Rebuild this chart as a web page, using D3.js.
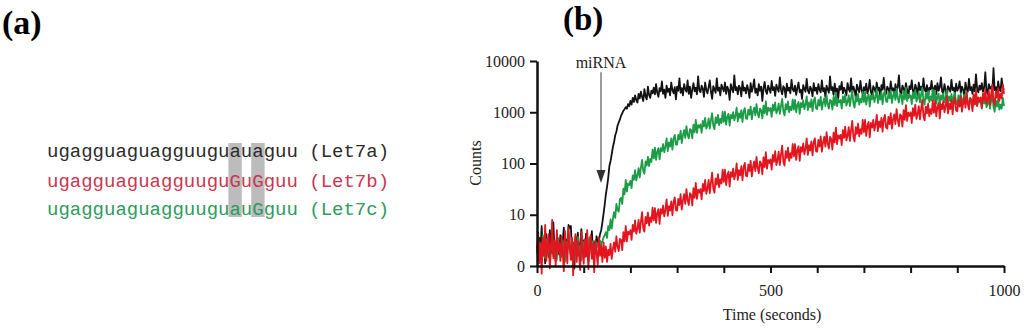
<!DOCTYPE html>
<html lang="en">
<head>
<meta charset="UTF-8">
<title>Let7 binding</title>
<style>
    body { margin: 0; background: #fff; }
    svg { display: block; }
    .seq { font-family: "Liberation Mono", "DejaVu Sans Mono", monospace; font-size: 19px; }
    .serif { font-family: "Liberation Serif", "Times New Roman", serif; }
    .axis path, .axis line { stroke: #111; stroke-width: 2px; }
    .axis text { font-family: "Liberation Serif", serif; font-size: 16px; fill: #222; }
</style>
</head>
<body>
<svg width="1024" height="330"></svg>
<script src="https://d3js.org/d3.v7.min.js"></script>
<script>
    // log10(counts), one sample every 2.5 s from 0 to 1000 s (20 samples per row = 50 s)
    var step = 2.5;

    var let7a = [
        0.40, 0.12, 0.55, 0.30, 0.78, 0.20, 0.45, 0.05, 0.62, 0.35, 0.18, 0.70, 0.42, 0.25, 0.85, 0.30, 0.10, 0.55, 0.38, 0.22,
        0.60, 0.28, 0.48, 0.75, 0.15, 0.52, 0.33, 0.80, 0.74, 0.78, 0.25, 0.45, -0.05, 0.58, 0.30, 0.65, 0.20, 0.40, 0.72, 0.28,
        0.50, 0.18, 0.63, 0.35, 0.08, 0.55, 0.40, 0.68, 0.22, 0.47, 0.30, 0.58, 0.45, 0.50, 0.62, 0.70, 0.85, 1.02, 1.20, 1.40,
        1.55, 1.72, 1.95, 2.05, 2.18, 2.32, 2.42, 2.55, 2.62, 2.74, 2.80, 2.86, 2.93, 2.98, 3.03, 3.06, 3.10, 3.07, 3.16, 3.12,
        3.22, 3.15, 3.28, 3.20, 3.33, 3.24, 3.19, 3.36, 3.27, 3.40, 3.30, 3.22, 3.45, 3.31, 3.25, 3.50, 3.34, 3.28, 3.42, 3.37,
        3.48, 3.35, 3.55, 3.38, 3.30, 3.47, 3.41, 3.60, 3.36, 3.44, 3.28, 3.52, 3.40, 3.46, 3.33, 3.58, 3.43, 3.37, 3.49, 3.25,
        3.50, 3.42, 3.66, 3.38, 3.47, 3.33, 3.55, 3.45, 3.40, 3.62, 3.36, 3.50, 3.28, 3.44, 3.57, 3.41, 3.48, 3.35, 3.70, 3.43,
        3.39, 3.52, 3.46, 3.30, 3.58, 3.44, 3.37, 3.49, 3.62, 3.40, 3.26, 3.51, 3.45, 3.38, 3.66, 3.42, 3.48, 3.33, 3.54, 3.47,
        3.41, 3.58, 3.36, 3.50, 3.44, 3.24, 3.55, 3.46, 3.39, 3.72, 3.43, 3.49, 3.35, 3.52, 3.47, 3.31, 3.60, 3.42, 3.48, 3.37,
        3.53, 3.44, 3.28, 3.57, 3.40, 3.49, 3.64, 3.38, 3.46, 3.33, 3.55, 3.42, 3.50, 3.22, 3.47, 3.59, 3.41, 3.36, 3.52, 3.45,
        3.38, 3.61, 3.43, 3.49, 3.32, 3.54, 3.46, 3.40, 3.68, 3.44, 3.35, 3.51, 3.47, 3.29, 3.56, 3.42, 3.48, 3.37, 3.63, 3.45,
        3.41, 3.52, 3.34, 3.47, 3.58, 3.39, 3.44, 3.26, 3.53, 3.46, 3.40, 3.65, 3.43, 3.37, 3.50, 3.45, 3.31, 3.57, 3.42, 3.48,
        3.36, 3.55, 3.44, 3.39, 3.62, 3.41, 3.47, 3.30, 3.52, 3.45, 3.38, 3.70, 3.43, 3.49, 3.34, 3.56, 3.40, 3.46, 3.27, 3.51,
        3.44, 3.59, 3.37, 3.48, 3.42, 3.33, 3.57, 3.45, 3.40, 3.66, 3.38, 3.50, 3.43, 3.29, 3.54, 3.46, 3.39, 3.61, 3.44, 3.35,
        3.49, 3.42, 3.56, 3.37, 3.45, 3.63, 3.40, 3.32, 3.51, 3.46, 3.39, 3.58, 3.43, 3.48, 3.25, 3.53, 3.44, 3.67, 3.41, 3.36,
        3.50, 3.45, 3.38, 3.60, 3.43, 3.47, 3.31, 3.55, 3.42, 3.49, 3.72, 3.40, 3.36, 3.52, 3.46, 3.39, 3.57, 3.44, 3.28, 3.51,
        3.45, 3.62, 3.41, 3.37, 3.54, 3.47, 3.33, 3.58, 3.43, 3.50, 3.38, 3.66, 3.44, 3.40, 3.53, 3.30, 3.48, 3.45, 3.61, 3.39,
        3.46, 3.52, 3.35, 3.57, 3.42, 3.49, 3.68, 3.41, 3.37, 3.55, 3.44, 3.29, 3.51, 3.46, 3.40, 3.63, 3.43, 3.48, 3.34, 3.56,
        3.42, 3.47, 3.60, 3.38, 3.50, 3.44, 3.32, 3.58, 3.45, 3.40, 3.65, 3.43, 3.49, 3.36, 3.54, 3.41, 3.74, 3.46, 3.39, 3.52,
        3.44, 3.57, 3.40, 3.48, 3.78, 3.42, 3.35, 3.55, 3.46, 3.50, 3.38, 3.86, 3.43, 3.49, 3.37, 3.60, 3.45, 3.41, 3.66, 3.47,
        3.44
    ];

    var let7c = [
        0.25, 0.48, 0.10, 0.40, 0.22, 0.60, 0.35, 0.15, 0.52, 0.28, 0.44, 0.05, 0.38, 0.58, 0.20, 0.46, 0.32, 0.12, 0.55, 0.30,
        0.42, 0.18, 0.50, 0.36, 0.08, 0.47, 0.26, 0.62, 0.34, 0.20, 0.53, 0.40, 0.14, 0.45, 0.30, 0.57, 0.24, 0.39, 0.11, 0.48,
        0.33, 0.52, 0.21, 0.44, 0.29, 0.56, 0.37, 0.18, 0.49, 0.35, 0.27, 0.46, 0.40, 0.33, 0.50, 0.42, 0.48, 0.56, 0.60, 0.66,
        0.55, 0.78, 0.70, 0.91, 0.73, 0.92, 1.05, 0.94, 1.21, 1.09, 1.06, 1.30, 1.33, 1.21, 1.51, 1.40, 1.68, 1.45, 1.61, 1.58,
        1.66, 1.52, 1.77, 1.68, 1.87, 1.67, 1.76, 1.91, 1.73, 1.92, 2.07, 1.85, 1.80, 2.04, 1.96, 2.13, 1.95, 2.09, 2.03, 2.27,
        2.10, 2.31, 2.07, 2.23, 2.30, 2.08, 2.30, 2.24, 2.38, 2.22, 2.33, 2.49, 2.24, 2.41, 2.33, 2.49, 2.27, 2.49, 2.56, 2.37,
        2.37, 2.56, 2.47, 2.64, 2.40, 2.55, 2.65, 2.50, 2.73, 2.56, 2.49, 2.67, 2.65, 2.49, 2.76, 2.61, 2.85, 2.60, 2.75, 2.70,
        2.76, 2.60, 2.83, 2.72, 2.89, 2.68, 2.74, 2.88, 2.68, 2.85, 2.98, 2.74, 2.67, 2.90, 2.79, 2.95, 2.75, 2.87, 2.79, 3.01,
        2.81, 3.01, 2.76, 2.91, 2.97, 2.74, 2.95, 2.88, 3.00, 2.84, 2.93, 3.09, 2.82, 2.98, 2.89, 3.04, 2.81, 3.02, 3.08, 2.88,
        2.87, 3.05, 2.95, 3.11, 2.86, 3.01, 3.09, 2.94, 3.16, 2.98, 2.90, 3.07, 3.04, 2.88, 3.13, 2.98, 3.21, 2.95, 3.09, 3.03,
        3.08, 2.91, 3.15, 3.03, 3.19, 2.98, 3.04, 3.17, 2.97, 3.13, 3.26, 3.02, 2.94, 3.16, 3.05, 3.21, 3.00, 3.11, 3.04, 3.25,
        3.05, 3.24, 3.00, 3.14, 3.20, 2.97, 3.18, 3.10, 3.23, 3.06, 3.15, 3.31, 3.04, 3.19, 3.10, 3.25, 3.02, 3.22, 3.29, 3.08,
        3.06, 3.24, 3.13, 3.30, 3.05, 3.19, 3.27, 3.12, 3.34, 3.16, 3.07, 3.24, 3.22, 3.05, 3.30, 3.14, 3.38, 3.12, 3.25, 3.19,
        3.24, 3.07, 3.31, 3.19, 3.35, 3.13, 3.20, 3.33, 3.12, 3.28, 3.42, 3.17, 3.09, 3.31, 3.21, 3.36, 3.15, 3.26, 3.19, 3.40,
        3.20, 3.39, 3.15, 3.29, 3.35, 3.11, 3.33, 3.25, 3.37, 3.20, 3.30, 3.45, 3.18, 3.33, 3.25, 3.39, 3.16, 3.36, 3.43, 3.22,
        3.20, 3.38, 3.27, 3.43, 3.18, 3.32, 3.40, 3.24, 3.46, 3.28, 3.19, 3.36, 3.33, 3.16, 3.41, 3.25, 3.48, 3.22, 3.35, 3.29,
        3.33, 3.16, 3.39, 3.27, 3.43, 3.21, 3.27, 3.40, 3.19, 3.35, 3.48, 3.23, 3.15, 3.37, 3.26, 3.41, 3.20, 3.31, 3.23, 3.44,
        3.23, 3.42, 3.17, 3.31, 3.36, 3.12, 3.33, 3.25, 3.37, 3.20, 3.28, 3.43, 3.16, 3.31, 3.22, 3.36, 3.12, 3.32, 3.38, 3.17,
        3.15, 3.33, 3.22, 3.37, 3.12, 3.26, 3.34, 3.17, 3.39, 3.21, 3.11, 3.28, 3.25, 3.08, 3.32, 3.16, 3.39, 3.13, 3.25, 3.19,
        3.24, 3.07, 3.29, 3.17, 3.32, 3.10, 3.16, 3.28, 3.07, 3.22, 3.35, 3.10, 3.01, 3.23, 3.11, 3.26, 3.05, 3.15, 3.07, 3.28,
        3.12
    ];

    var let7b = [
        0.30, 0.65, 0.05, 0.45, -0.15, 0.55, 0.20, 0.80, 0.10, 0.40, 0.62, -0.05, 0.35, 0.90, 0.15, 0.50, 0.00, 0.70, 0.28, 0.45,
        0.10, 0.58, 0.25, -0.10, 0.68, 0.32, 0.05, 0.75, 0.40, 0.12, 0.55, -0.18, 0.38, 0.62, 0.08, 0.48, 0.22, -0.08, 0.66, 0.30,
        0.04, 0.52, 0.18, 0.70, -0.06, 0.36, 0.60, 0.14, 0.44, -0.12, 0.50, 0.26, 0.02, 0.56, 0.20, 0.40, 0.08, 0.46, 0.16, 0.38,
        0.08, 0.32, 0.21, 0.43, 0.14, 0.33, 0.46, 0.28, 0.58, 0.38, 0.29, 0.53, 0.51, 0.31, 0.66, 0.48, 0.78, 0.48, 0.67, 0.62,
        0.70, 0.51, 0.80, 0.67, 0.89, 0.63, 0.72, 0.90, 0.65, 0.86, 1.05, 0.74, 0.67, 0.96, 0.83, 1.04, 0.79, 0.95, 0.86, 1.14,
        0.89, 1.13, 0.84, 1.03, 1.11, 0.82, 1.11, 1.02, 1.18, 0.97, 1.10, 1.30, 0.98, 1.17, 1.08, 1.26, 0.99, 1.25, 1.34, 1.09,
        1.08, 1.31, 1.19, 1.40, 1.10, 1.28, 1.40, 1.21, 1.50, 1.29, 1.19, 1.42, 1.39, 1.18, 1.52, 1.33, 1.62, 1.31, 1.49, 1.43,
        1.50, 1.30, 1.60, 1.46, 1.68, 1.41, 1.51, 1.68, 1.42, 1.63, 1.82, 1.51, 1.43, 1.71, 1.59, 1.79, 1.54, 1.69, 1.61, 1.88,
        1.64, 1.88, 1.58, 1.77, 1.84, 1.55, 1.83, 1.74, 1.90, 1.69, 1.80, 2.00, 1.68, 1.87, 1.77, 1.95, 1.67, 1.93, 2.01, 1.76,
        1.75, 1.98, 1.85, 2.05, 1.75, 1.93, 2.04, 1.85, 2.13, 1.92, 1.81, 2.04, 2.00, 1.79, 2.12, 1.93, 2.22, 1.90, 2.07, 2.01,
        2.08, 1.88, 2.17, 2.03, 2.24, 1.97, 2.06, 2.23, 1.97, 2.18, 2.35, 2.04, 1.96, 2.24, 2.11, 2.31, 2.05, 2.20, 2.11, 2.38,
        2.14, 2.38, 2.07, 2.26, 2.34, 2.05, 2.32, 2.23, 2.39, 2.18, 2.29, 2.49, 2.17, 2.36, 2.25, 2.43, 2.16, 2.42, 2.49, 2.24,
        2.23, 2.46, 2.33, 2.53, 2.23, 2.41, 2.52, 2.33, 2.61, 2.40, 2.29, 2.52, 2.48, 2.27, 2.60, 2.41, 2.70, 2.38, 2.55, 2.49,
        2.56, 2.36, 2.65, 2.50, 2.72, 2.45, 2.54, 2.71, 2.44, 2.65, 2.83, 2.52, 2.43, 2.71, 2.58, 2.78, 2.53, 2.67, 2.58, 2.85,
        2.61, 2.85, 2.54, 2.73, 2.81, 2.51, 2.79, 2.70, 2.85, 2.64, 2.76, 2.95, 2.63, 2.82, 2.71, 2.89, 2.62, 2.87, 2.95, 2.70,
        2.68, 2.91, 2.77, 2.98, 2.68, 2.86, 2.96, 2.77, 3.06, 2.85, 2.73, 2.96, 2.93, 2.72, 3.04, 2.85, 3.14, 2.83, 2.99, 2.93,
        3.00, 2.79, 3.08, 2.93, 3.15, 2.87, 2.96, 3.12, 2.86, 3.06, 3.24, 2.92, 2.84, 3.11, 2.98, 3.17, 2.92, 3.06, 2.97, 3.23,
        2.99, 3.22, 2.92, 3.10, 3.18, 2.88, 3.16, 3.06, 3.22, 3.00, 3.11, 3.31, 2.98, 3.17, 3.06, 3.24, 2.96, 3.21, 3.29, 3.03,
        3.02, 3.24, 3.11, 3.31, 3.01, 3.18, 3.29, 3.09, 3.38, 3.16, 3.05, 3.27, 3.24, 3.02, 3.35, 3.15, 3.44, 3.12, 3.29, 3.22,
        3.29, 3.09, 3.37, 3.23, 3.44, 3.17, 3.25, 3.42, 3.15, 3.36, 3.54, 3.22, 3.14, 3.41, 3.28, 3.47, 3.22, 3.36, 3.27, 3.54,
        3.36
    ];

    var xTicks = [0, 100, 200, 300, 400, 500, 600, 700, 800, 900, 1000];
    var xTickLabels = [0, 500, 1000];
    var yTicks = [0, 1, 2, 3, 4];
    var yTickLabels = ["0", "10", "100", "1000", "10000"];

    var sequences = ["ugagguaguagguuguauaguu", "ugagguaguagguuguGuGguu", "ugagguaguagguuguauGguu"];
    var seqNames = ["(Let7a)", "(Let7b)", "(Let7c)"];
    var seqColors = ["#2b2b2b", "#c9384f", "#2f9a5c"];
    var highlightPos = [16, 18];

    // arrow marking the miRNA addition (time, log10 counts from/to)
    var miRNA = { t: 137, from: 3.78, to: 1.62 };

    var svg = d3.select("svg");

    // ---- panel (a) ----
    var charW = 19 * 0.6;
    var seqX = 47;
    var seqY = [157, 186.5, 215];

    svg.selectAll("rect.hl")
        .data(highlightPos)
        .enter().append("rect")
        .attr("class", "hl")
        .attr("x", function (d) { return seqX + d * charW - 1; })
        .attr("y", 143)
        .attr("width", charW + 2)
        .attr("height", 74)
        .style("fill", "#bcbcbc");

    svg.selectAll("text.seq")
        .data(sequences)
        .enter().append("text")
        .attr("class", "seq")
        .attr("x", seqX)
        .attr("y", function (d, i) { return seqY[i]; })
        .style("fill", function (d, i) { return seqColors[i]; })
        .style("white-space", "pre")
        .text(function (d, i) { return d + " " + seqNames[i]; });

    svg.append("text").attr("class", "serif")
        .attr("x", 2).attr("y", 34)
        .style("font-size", "34px").style("font-weight", "bold")
        .text("(a)");

    svg.append("text").attr("class", "serif")
        .attr("x", 563).attr("y", 30)
        .style("font-size", "33px").style("font-weight", "bold")
        .text("(b)");

    // ---- panel (b) ----
    var x = d3.scaleLinear().domain([0, 1000]).range([537, 1004]);
    var y = d3.scaleLinear().domain([0, 4]).range([266, 61]);

    var line = d3.line()
        .x(function (d, i) { return x(i * step); })
        .y(function (d) { return y(d); });

    var traces = [
        { values: let7a, color: "#121212" },
        { values: let7c, color: "#1c9c46" },
        { values: let7b, color: "#e3161f" }
    ];

    svg.selectAll("path.trace")
        .data(traces)
        .enter().append("path")
        .attr("class", "trace")
        .attr("d", function (d) { return line(d.values); })
        .style("fill", "none")
        .style("stroke", function (d) { return d.color; })
        .style("stroke-width", 1.8)
        .style("stroke-linejoin", "round");

    svg.append("g")
        .attr("class", "axis")
        .attr("transform", "translate(0,266)")
        .call(d3.axisBottom(x)
            .tickValues(xTicks)
            .tickSize(7)
            .tickSizeOuter(0)
            .tickPadding(12)
            .tickFormat(function (d) { return xTickLabels.indexOf(d) >= 0 ? d : ""; }));

    svg.append("g")
        .attr("class", "axis")
        .attr("transform", "translate(537,0)")
        .call(d3.axisLeft(y)
            .tickValues(yTicks)
            .tickSize(7)
            .tickSizeOuter(0)
            .tickPadding(5)
            .tickFormat(function (d, i) { return yTickLabels[i]; }));

    svg.selectAll(".axis .domain").style("stroke-width", "2.5px");

    svg.append("text").attr("class", "serif")
        .attr("transform", "translate(481,163) rotate(-90)")
        .attr("text-anchor", "middle")
        .style("font-size", "16px").style("fill", "#222")
        .text("Counts");

    svg.append("text").attr("class", "serif")
        .attr("x", 772).attr("y", 320)
        .attr("text-anchor", "middle")
        .style("font-size", "16px").style("fill", "#222")
        .text("Time (seconds)");

    // miRNA addition arrow
    svg.append("text").attr("class", "serif")
        .attr("x", x(miRNA.t)).attr("y", 68)
        .attr("text-anchor", "middle")
        .style("font-size", "16px").style("fill", "#222")
        .text("miRNA");

    svg.append("line")
        .attr("x1", x(miRNA.t)).attr("x2", x(miRNA.t))
        .attr("y1", y(miRNA.from)).attr("y2", y(miRNA.to) - 8)
        .style("stroke", "#9c9c9c")
        .style("stroke-width", 2);

    svg.append("path")
        .attr("d", "M" + (x(miRNA.t) - 4.5) + "," + (y(miRNA.to) - 13) +
            "L" + (x(miRNA.t) + 4.5) + "," + (y(miRNA.to) - 13) +
            "L" + x(miRNA.t) + "," + y(miRNA.to) + "Z")
        .style("fill", "#333");
</script>
</body>
</html>
